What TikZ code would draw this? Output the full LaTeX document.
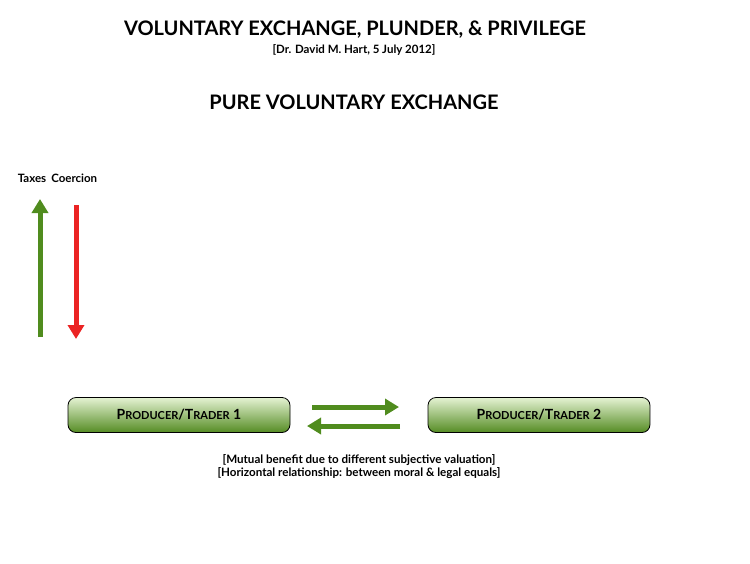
\documentclass[tikz,border=0pt]{standalone}
\usepackage{fontspec}
\setmainfont{Lato}
\usetikzlibrary{arrows.meta,positioning}
\definecolor{boxtop}{RGB}{228,242,210}
\definecolor{boxbot}{RGB}{85,140,35}
\definecolor{arrgreen}{RGB}{80,140,30}
\definecolor{arrred}{RGB}{235,35,35}
\newcommand{\fakesc}[2]{#1{\fontsize{11}{13}\selectfont #2}}

\begin{document}
\begin{tikzpicture}[x=1pt,y=-1pt,font=\bfseries]

  \tikzstyle{trader}=[rectangle,rounded corners=8pt,draw=black,thick,
    top color=boxtop,bottom color=boxbot,
    minimum width=222pt,minimum height=35pt,font=\bfseries\fontsize{14}{16}\selectfont]

  \tikzstyle{flow}=[line width=5pt,-{Triangle[length=14pt,width=16pt]}]

  \useasboundingbox (0,0) rectangle (750,563);

  \node (title) at (355,30) {\fontsize{20}{24}\selectfont VOLUNTARY EXCHANGE, PLUNDER, \& PRIVILEGE};
  \node (date) at (354,50) {\fontsize{11.5}{13}\selectfont [Dr. David M. Hart, 5 July 2012]};
  \node (head) at (354,102) {\fontsize{20}{24}\selectfont PURE VOLUNTARY EXCHANGE};

  \node (taxes) at (32,178) {\fontsize{11.5}{13}\selectfont Taxes};
  \node (coerc) [right=-2pt of taxes] {\fontsize{11.5}{13}\selectfont Coercion};
  \coordinate (tbot) at (40,337);
  \coordinate (ttop) at (40,199);
  \coordinate (ctop) at (76,205);
  \coordinate (cbot) at (76,339);
  \draw[flow,arrgreen] (tbot) -- (ttop);
  \draw[flow,arrred] (ctop) -- (cbot);

  \node[trader] (t1) at (179,415) {\fakesc{P}{RODUCER}/\fakesc{T}{RADER} 1};
  \node[trader] (t2) at (539,415) {\fakesc{P}{RODUCER}/\fakesc{T}{RADER} 2};
  \coordinate (ra) at (312,407);
  \coordinate (rb) at (399,407);
  \coordinate (la) at (400,426);
  \coordinate (lb) at (307,426);
  \draw[flow,arrgreen] (ra) -- (rb);
  \draw[flow,arrgreen] (la) -- (lb);

  \node (note1) at (359,460) {\fontsize{11.6}{14}\selectfont [Mutual benefit due to different subjective valuation]};
  \node (note2) [below=-5pt of note1] {\fontsize{11.6}{14}\selectfont [Horizontal relationship: between moral \& legal equals]};
\end{tikzpicture}
\end{document}
